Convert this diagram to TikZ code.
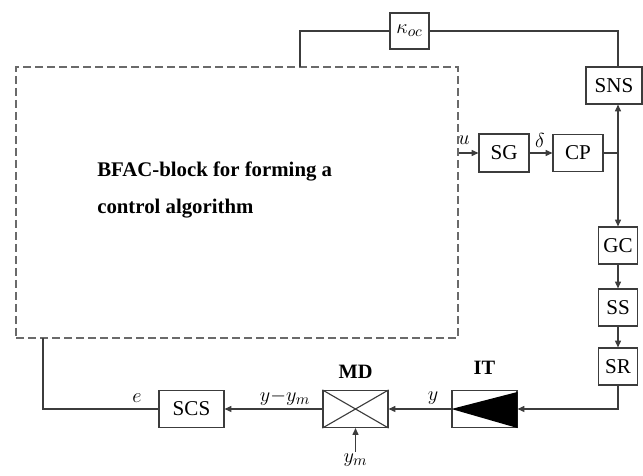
\documentclass[tikz,border=0pt]{standalone}
\usepackage{fontspec}
\setmainfont{Liberation Serif}
\usepackage{amsmath}
\usepackage{xcolor}
\definecolor{colLine}{HTML}{3C3C3C}
\definecolor{colDash}{HTML}{6A6A6A}
\usepackage{tikz}
\usetikzlibrary{arrows.meta, positioning}

\tikzset{
  blk/.style={draw=colLine, line width=0.8pt, minimum width=1.625cm, minimum height=0.925cm, inner sep=0pt, font=\fontsize{15}{18}\selectfont},
  sblk/.style={blk, minimum width=0.975cm},
  wire/.style={draw=colLine, line width=0.8pt},
  arr/.style={wire, -{Triangle[length=1.7mm, width=1.5mm]}},
  sig/.style={font=\fontsize{15}{18}\selectfont, inner sep=1pt},
  tag/.style={font=\bfseries\fontsize{14.5}{17}\selectfont, inner sep=0pt}
}

\begin{document}
\begin{tikzpicture}
        \useasboundingbox (0,0) rectangle (16.075,11.9);
        % Block for forming the control algorithm
        \node[draw=colDash, line width=0.8pt, dash pattern=on 2mm off 1mm, minimum width=11.05cm, minimum height=6.775cm, inner sep=0pt] (bfac) at (5.925,6.8375) {};
        \node[font=\bfseries\fontsize{14.8}{26}\selectfont, align=left, anchor=west, inner sep=0pt] (bfactxt) at (2.425,7.15) {BFAC-block for forming a\\control algorithm};
        % Blocks
        \node[blk, minimum width=0.975cm, minimum height=0.9cm] (kappa) at (10.2375,11.125) {$\kappa_{oc}$};
        \node[blk, minimum width=1.4cm] (SNS) at (15.35,9.7625) {SNS};
        \node[blk, minimum width=1.25cm, minimum height=0.95cm] (SG) at (12.6,8.075) {SG};
        \node[blk, minimum width=1.25cm] (CP) at (14.45,8.075) {CP};
        \node[sblk] (GC) at (15.45,5.7625) {GC};
        \node[sblk] (SS) at (15.45,4.2125) {SS};
        \node[sblk] (SR) at (15.45,2.7375) {SR};
        \node[blk] (IT) at (12.1125,1.675) {};
        \node[blk] (MD) at (8.8875,1.675) {};
        \node[blk] (SCS) at (4.7875,1.675) {SCS};
        % Inside IT and MD
        \fill[black] (IT.west) -- ([yshift=-0.05cm]IT.north east) -- (IT.south east) -- cycle;
        \draw[wire] (MD.north west) -- (MD.south east) (MD.south west) -- (MD.north east);
        % Block names
        \node[tag, above=0.37cm of IT] (ITtag) {IT};
        \node[tag, above=0.28cm of MD] (MDtag) {MD};
        % Signal names
        \node[sig] (lu) at (11.6,8.4) {$u$};
        \node[sig] (ldelta) at (13.5,8.4) {$\delta$};
        \node[sig] (ly) at (10.825,1.95) {$y$};
        \node[sig] (lyd) at (7.125,1.95) {$y{-}y_m$};
        \node[sig] (le) at (3.425,1.95) {$e$};
        \coordinate (ymin) at (8.8875,0.6);
        \node[sig, below=0pt of ymin] (lym) {$y_m$};
        % Free ends on the dashed block
        \coordinate (fbin) at (7.5,10.225);
        \coordinate (eout) at (1.075,3.45);
        % Connections
        \draw[arr] (bfac.east |- SG) -- (SG.west);
        \draw[arr] (SG) -- (CP);
        \draw[wire] (CP.east) -- (CP.east -| GC.north);
        \draw[wire, {Triangle[length=1.7mm, width=1.5mm]}-{Triangle[length=1.7mm, width=1.5mm]}] (SNS.south -| GC.north) -- (GC.north);
        \draw[arr] (GC) -- (SS);
        \draw[arr] (SS) -- (SR);
        \draw[arr] (SR.south) |- (IT.east);
        \draw[arr] (IT) -- (MD);
        \draw[arr] (MD) -- (SCS);
        \draw[arr] (ymin) -- (MD.south);
        \draw[wire] (SCS.west) -| (eout);
        \draw[wire] (fbin) |- (kappa.west);
        \draw[wire] (kappa.east) -| (SNS.north -| GC.north);
    \end{tikzpicture}
\end{document}
